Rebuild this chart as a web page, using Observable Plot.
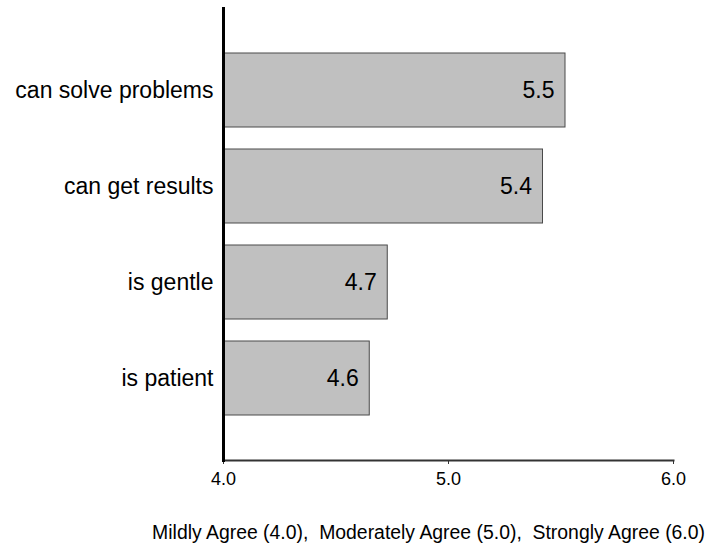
<!DOCTYPE html>
<html>
<head>
<meta charset="utf-8">
<script src="https://cdn.jsdelivr.net/npm/d3@7"></script>
<script src="https://cdn.jsdelivr.net/npm/@observablehq/plot@0.6"></script>
<style>
  html, body { margin: 0; padding: 0; background: #fff; }
  #wrap { position: relative; width: 706px; height: 547px; font-family: Arial, "Liberation Sans", sans-serif; }
  #caption { position: absolute; left: 0; top: 523px; width: 705px; text-align: right; font-size: 19.4px; line-height: 19px; color: #000; white-space: pre; }
</style>
</head>
<body>
<div id="wrap"><div id="chart"></div><div id="caption"></div></div>
<script>
const categories = ["can solve problems", "can get results", "is gentle", "is patient"];
const values = [5.52, 5.42, 4.73, 4.65];
const valueLabels = ["5.5", "5.4", "4.7", "4.6"];
const xTicks = [4, 5, 6];
const xTickLabels = ["4.0", "5.0", "6.0"];
const captionText = "Mildly Agree (4.0),  Moderately Agree (5.0),  Strongly Agree (6.0)";

const data = categories.map((c, i) => ({cat: c, value: values[i], label: valueLabels[i]}));

const chart = Plot.plot({
  width: 706,
  height: 500,
  marginLeft: 223,
  marginRight: 33,
  marginTop: 8,
  marginBottom: 40,
  style: {fontFamily: "Arial, 'Liberation Sans', sans-serif", color: "#000", background: "#fff"},
  x: {domain: [4, 6], label: null},
  y: {domain: categories, paddingInner: 0.232, paddingOuter: 0.463, label: null},
  marks: [
    Plot.barX(data, {x1: 4, x2: "value", y: "cat", fill: "#c0c0c0", stroke: "#4a4a4a", strokeWidth: 1}),
    Plot.text(data, {x: "value", y: "cat", text: "label", textAnchor: "end", dx: -11, fontSize: 23, fill: "#000"}),
    Plot.axisY({tickSize: 0, tickPadding: 10, fontSize: 23, label: null}),
    Plot.axisX({ticks: xTicks, tickFormat: d => xTickLabels[xTicks.indexOf(d)], tickSize: 4, tickPadding: 8, fontSize: 18, label: null, stroke: "#333"}),
    Plot.frame({anchor: "bottom", stroke: "#333", strokeWidth: 2}),
    Plot.frame({anchor: "left", stroke: "#000", strokeWidth: 3})
  ]
});
document.getElementById("chart").appendChild(chart);
document.getElementById("caption").textContent = captionText;
</script>
</body>
</html>
